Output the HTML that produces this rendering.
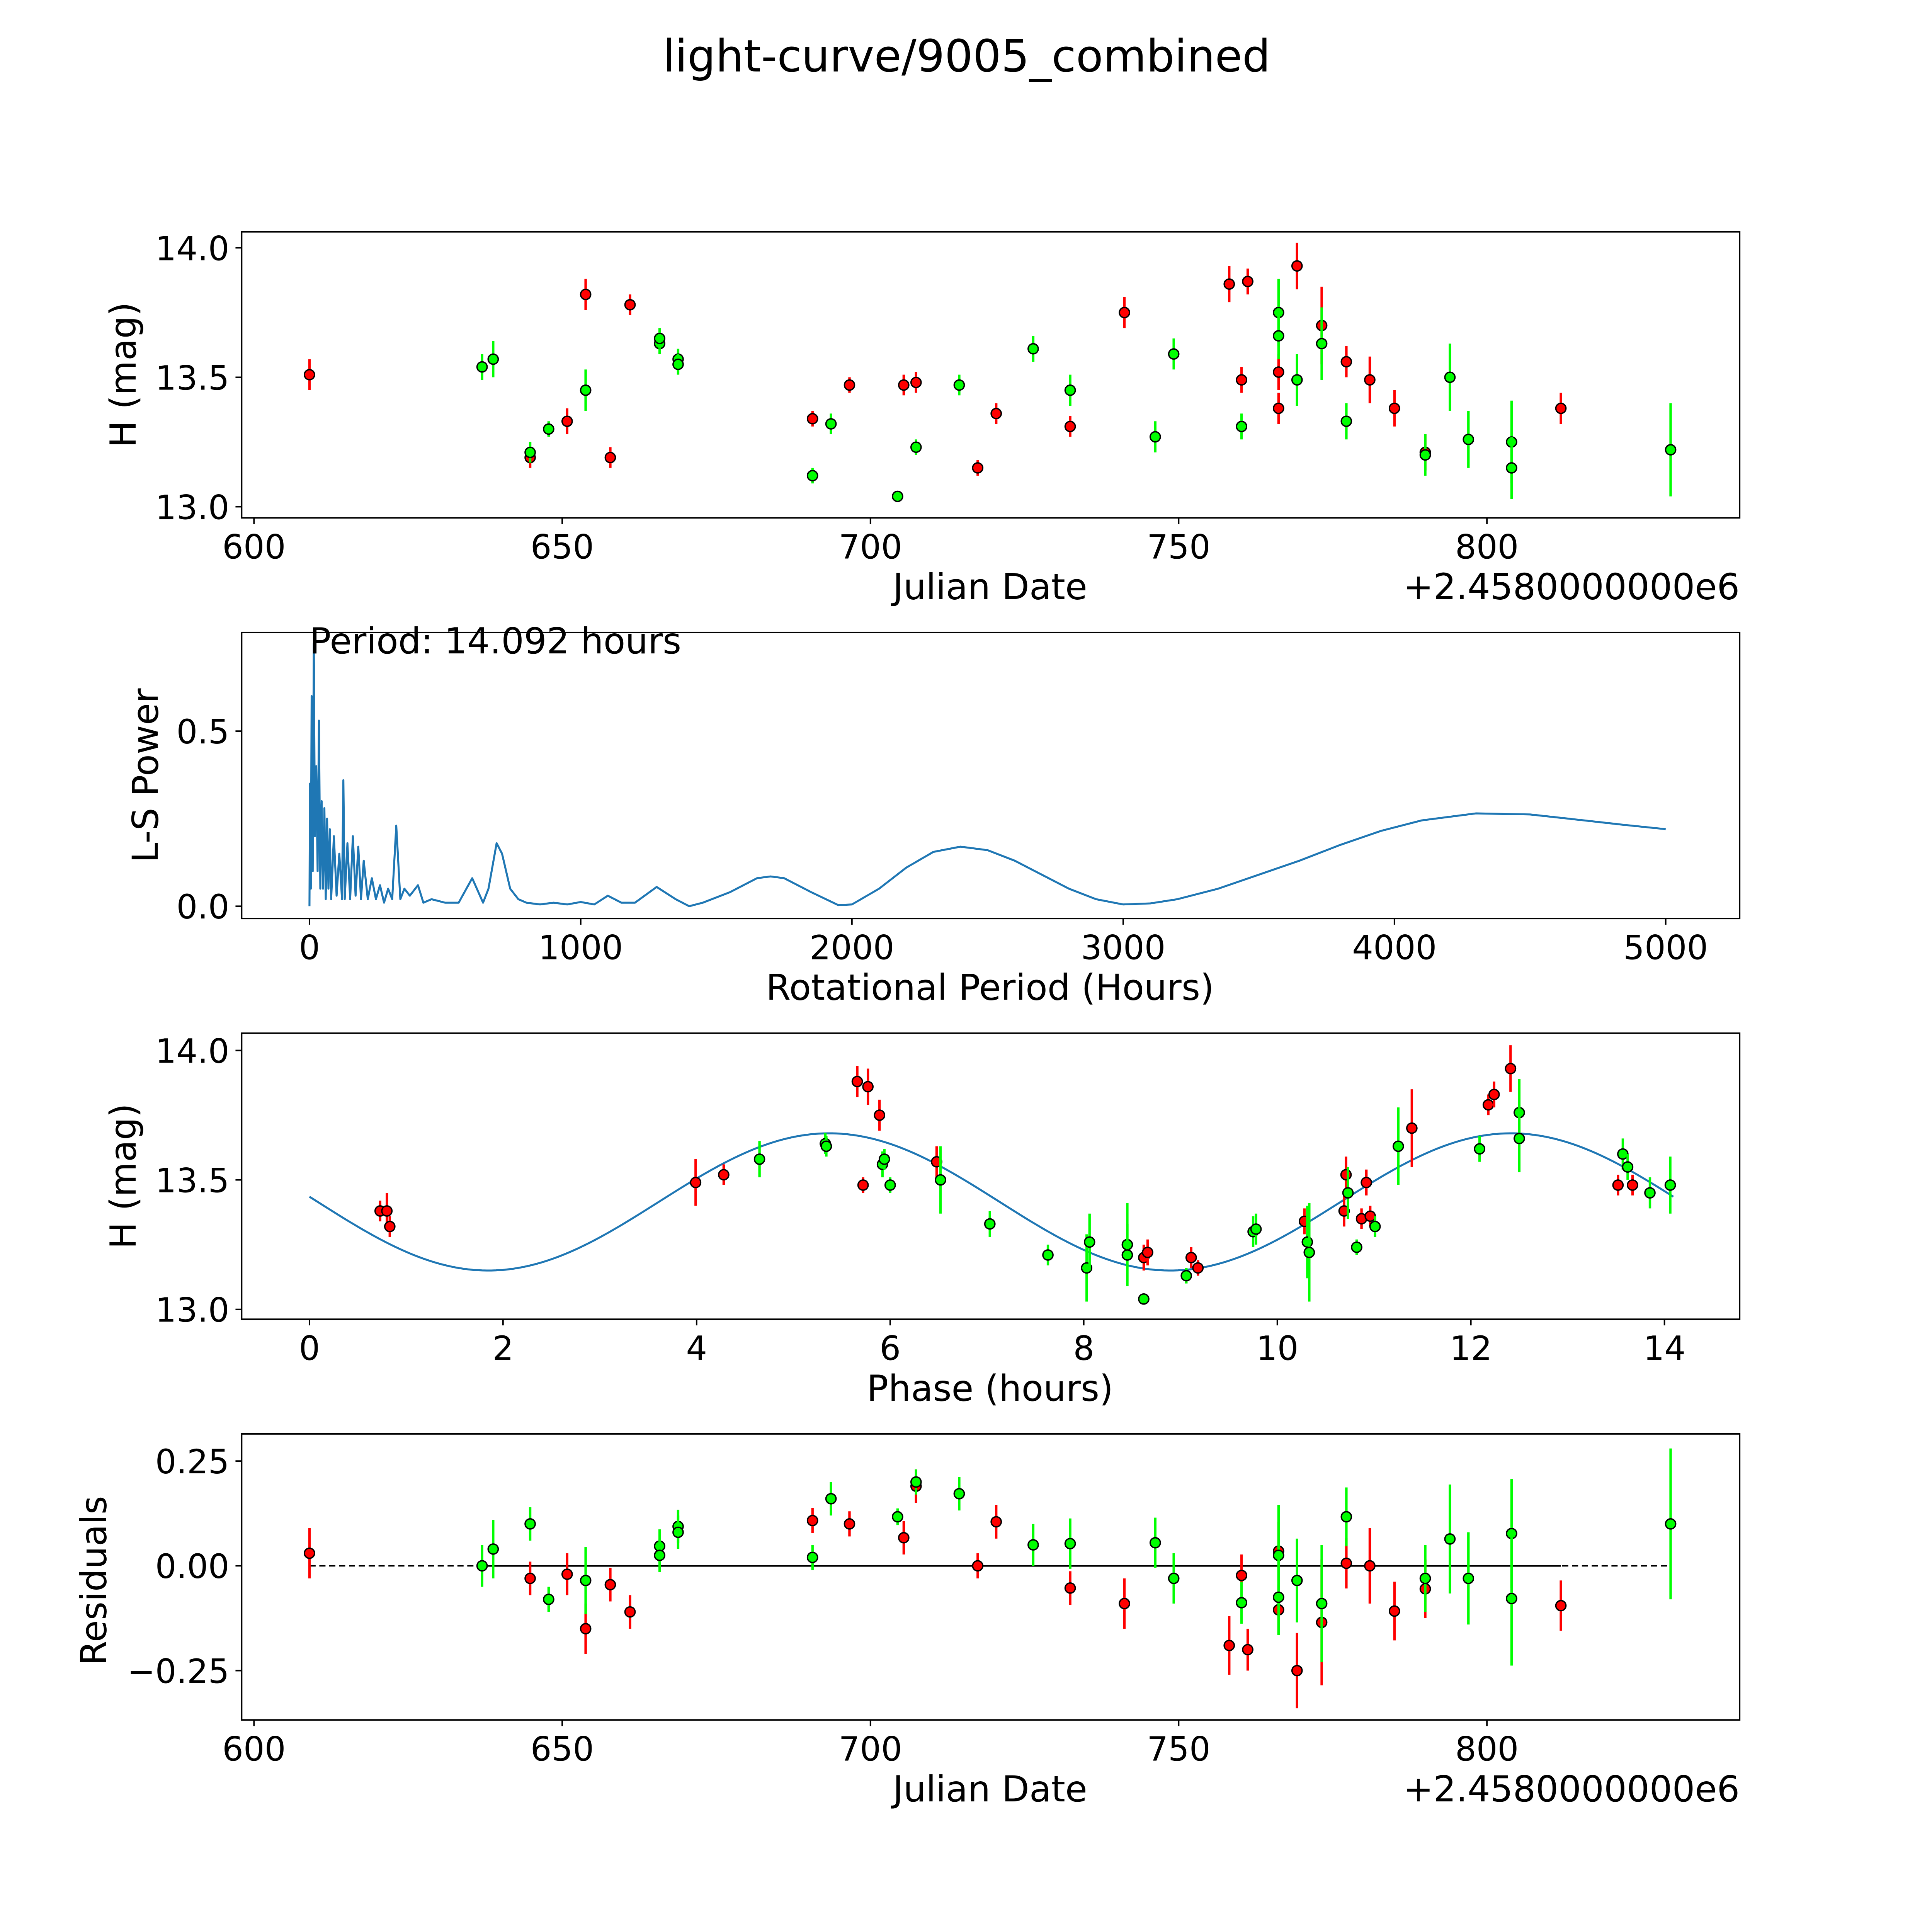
<!DOCTYPE html>
<html><head><meta charset="utf-8"><style>
html,body{margin:0;padding:0;background:#fff;overflow:hidden;width:100%;height:100%}
svg{display:block;position:fixed;left:0;top:0;width:100vw;height:100vh}
text{font-family:"DejaVu Sans","Liberation Sans",sans-serif;fill:#000}
</style></head><body>
<svg id="fig" viewBox="0 0 1567 1567" preserveAspectRatio="none" xmlns="http://www.w3.org/2000/svg">
<rect x="0" y="0" width="1567" height="1567" fill="#fff"/>
<text x="784" y="58" font-size="36" text-anchor="middle">light-curve/9005_combined</text>
</svg>
<script>
// ---------- data ----------
const lcDates=[609,637,638.8,644.8,644.8,647.8,650.8,653.8,653.8,657.8,661,665.8,665.8,668.8,668.8,690.6,690.6,693.6,696.6,704.4,705.4,707.4,707.4,714.4,717.4,720.4,726.4,732.4,732.4,741.2,746.2,749.2,758.2,760.2,760.2,761.2,766.2,766.2,766.2,766.2,769.2,769.2,773.2,773.2,777.2,777.2,781,785,790,790,794,797,804,804,812,829.8];
const lcMags=[13.51,13.54,13.57,13.19,13.21,13.30,13.33,13.82,13.45,13.19,13.78,13.63,13.65,13.57,13.55,13.34,13.12,13.32,13.47,13.04,13.47,13.48,13.23,13.47,13.15,13.36,13.61,13.31,13.45,13.75,13.27,13.59,13.86,13.49,13.31,13.87,13.52,13.38,13.75,13.66,13.93,13.49,13.70,13.63,13.56,13.33,13.49,13.38,13.21,13.20,13.50,13.26,13.25,13.15,13.38,13.22];
const lcErrs=[0.06,0.05,0.07,0.04,0.04,0.03,0.05,0.06,0.08,0.04,0.04,0.04,0.04,0.04,0.04,0.03,0.03,0.04,0.03,0.02,0.04,0.04,0.03,0.04,0.03,0.04,0.05,0.04,0.06,0.06,0.06,0.06,0.07,0.05,0.05,0.05,0.07,0.06,0.13,0.09,0.09,0.10,0.15,0.14,0.06,0.07,0.09,0.07,0.07,0.08,0.13,0.11,0.16,0.12,0.06,0.18];
const lcColors=["r","g","g","r","g","g","r","r","g","r","r","g","g","g","g","r","g","g","r","g","r","r","g","g","r","r","g","r","g","r","g","g","r","r","g","r","r","r","g","g","r","g","r","g","r","g","r","r","r","g","g","g","g","g","r","g"];
const resDates=[609,637,638.8,644.8,644.8,647.8,650.8,653.8,653.8,657.8,661,665.8,665.8,668.8,668.8,690.6,690.6,693.6,696.6,704.4,705.4,707.4,707.4,714.4,717.4,720.4,726.4,732.4,732.4,741.2,746.2,749.2,758.2,760.2,760.2,761.2,766.2,766.2,766.2,766.2,769.2,769.2,773.2,773.2,777.2,777.2,781,785,790,790,794,797,804,804,812,829.8];
const resValues=[0.03,0.00,0.04,-0.03,0.10,-0.08,-0.02,-0.15,-0.035,-0.045,-0.11,0.047,0.025,0.094,0.08,0.108,0.02,0.16,0.10,0.117,0.067,0.19,0.20,0.172,0.00,0.105,0.05,-0.053,0.053,-0.09,0.055,-0.03,-0.19,-0.023,-0.088,-0.20,0.035,-0.105,0.025,-0.075,-0.25,-0.035,-0.135,-0.09,0.006,0.117,0.00,-0.108,-0.055,-0.03,0.064,-0.03,0.077,-0.078,-0.095,0.10];
const resErrs=[0.06,0.05,0.07,0.04,0.04,0.03,0.05,0.06,0.08,0.04,0.04,0.04,0.04,0.04,0.04,0.03,0.03,0.04,0.03,0.02,0.04,0.04,0.03,0.04,0.03,0.04,0.05,0.04,0.06,0.06,0.06,0.06,0.07,0.05,0.05,0.05,0.07,0.06,0.12,0.09,0.09,0.10,0.15,0.14,0.06,0.07,0.09,0.07,0.07,0.08,0.13,0.11,0.13,0.16,0.06,0.18];
const resColors=["r","g","g","r","g","g","r","r","g","r","r","g","g","g","g","r","g","g","r","g","r","r","g","g","r","r","g","r","g","r","g","g","r","r","g","r","r","r","g","g","r","g","r","g","r","g","r","r","r","g","g","g","g","g","r","g"];
const phHours=[0.73,0.80,0.83,3.99,4.28,4.65,5.33,5.34,5.66,5.77,5.89,5.72,5.92,5.94,6.0,6.48,6.52,7.03,7.63,8.03,8.06,8.45,8.45,8.62,8.66,8.62,9.06,9.11,9.18,9.75,9.78,10.28,10.31,10.33,10.69,10.71,10.73,10.82,10.87,10.92,10.96,11.01,11.25,11.39,12.09,12.18,12.24,12.41,12.5,12.5,13.52,13.57,13.62,13.67,13.85,14.06];
const phMags=[13.38,13.38,13.32,13.49,13.52,13.58,13.64,13.63,13.88,13.86,13.75,13.48,13.56,13.58,13.48,13.57,13.50,13.33,13.21,13.16,13.26,13.25,13.21,13.20,13.22,13.04,13.13,13.20,13.16,13.30,13.31,13.34,13.26,13.22,13.38,13.52,13.45,13.24,13.35,13.49,13.36,13.32,13.63,13.70,13.62,13.79,13.83,13.93,13.76,13.66,13.48,13.60,13.55,13.48,13.45,13.48];
const phErrs=[0.04,0.07,0.04,0.09,0.04,0.07,0.04,0.04,0.06,0.07,0.06,0.03,0.05,0.04,0.03,0.06,0.13,0.05,0.04,0.13,0.11,0.16,0.12,0.05,0.05,0.02,0.03,0.04,0.03,0.06,0.06,0.05,0.14,0.19,0.06,0.07,0.10,0.03,0.04,0.05,0.04,0.04,0.15,0.15,0.05,0.04,0.05,0.09,0.13,0.13,0.04,0.06,0.05,0.04,0.06,0.11];
const phColors=["r","r","r","r","r","g","g","g","r","r","r","r","g","g","g","r","g","g","g","g","g","g","g","r","r","g","g","r","r","g","g","r","g","g","r","r","g","g","r","r","r","g","g","r","g","r","r","r","g","g","r","g","g","r","g","g"];
const psPeriods=[0,2,5,8,12,16,20,25,30,35,40,45,50,55,60,65,70,75,80,90,100,110,120,125,130,140,150,160,170,180,190,200,215,230,245,260,275,290,305,320,335,350,370,400,420,450,500,550,600,640,660,690,710,740,770,800,850,900,950,1000,1050,1100,1150,1200,1280,1350,1400,1450,1550,1650,1700,1750,1850,1950,2000,2100,2200,2300,2400,2500,2600,2700,2800,2900,3000,3100,3200,3350,3500,3650,3800,3950,4100,4300,4500,4700,4850,5000];
const psPower=[0,0.35,0.05,0.6,0.1,0.75,0.2,0.4,0.1,0.53,0.05,0.3,0.05,0.28,0.02,0.25,0.05,0.22,0.02,0.2,0.03,0.15,0.02,0.36,0.02,0.18,0.02,0.2,0.03,0.17,0.02,0.13,0.02,0.08,0.02,0.06,0.01,0.05,0.02,0.23,0.02,0.05,0.03,0.06,0.01,0.02,0.01,0.01,0.08,0.01,0.05,0.18,0.15,0.05,0.02,0.01,0.005,0.01,0.005,0.012,0.005,0.03,0.01,0.01,0.055,0.02,0.0,0.01,0.04,0.08,0.085,0.08,0.04,0.003,0.005,0.05,0.11,0.155,0.17,0.16,0.13,0.09,0.05,0.02,0.005,0.008,0.02,0.05,0.09,0.13,0.175,0.215,0.245,0.265,0.262,0.245,0.232,0.22];
const fitParams=[13.415,0.265,5.37,7.046,14.092]; // mean, amplitude, peak phase, harmonic period, max phase
const xTicksDate=[600,650,700,750,800];
const yTicksMag=["13.0","13.5","14.0"];
const xTicksPeriod=[0,1000,2000,3000,4000,5000];
const yTicksPower=["0.0","0.5"];
const xTicksPhase=[0,2,4,6,8,10,12,14];
const yTicksRes=["\u22120.25","0.00","0.25"];
const yTicksResVal=[-0.25,0,0.25];

// ---------- helpers ----------
const NS="http://www.w3.org/2000/svg";
const svg=document.getElementById('fig');
function mk(tag,attrs,parent){const e=document.createElementNS(NS,tag);for(const k in attrs)e.setAttribute(k,attrs[k]);(parent||svg).appendChild(e);return e;}
function lin(d0,d1,p0,p1){return v=>p0+(v-d0)*(p1-p0)/(d1-d0);}
const COL={r:"#ff0000",g:"#00ff00"};

function frame(x0,y0,x1,y1,name){
  const r=mk('rect',{x:x0,y:y0,width:x1-x0,height:y1-y0,fill:'none',stroke:'#000','stroke-width':1.2});
  
  
}
function xtick(x,yb,label,name){
  const l=mk('line',{x1:x,x2:x,y1:yb,y2:yb+5,stroke:'#000','stroke-width':1.2});
  
  
  const t=mk('text',{x:x,y:yb+33,'font-size':27,'text-anchor':'middle'});
  t.textContent=label;
  
  
}
function ytick(y,xl,label,name){
  const l=mk('line',{x1:xl-5,x2:xl,y1:y,y2:y,stroke:'#000','stroke-width':1.2});
  
  
  const t=mk('text',{x:xl-10,y:y+10,'font-size':27,'text-anchor':'end'});
  t.textContent=label;
  
  
}
function label(x,y,txt,rot,name,anchor){
  const t=mk('text',{x:x,y:y,'font-size':29,'text-anchor':anchor||'middle'});
  if(rot)t.setAttribute('transform','rotate(-90 '+x+' '+y+')');
  t.textContent=txt;
  
  
}
function point(x,y,ylo,yhi,c,name){
  const g=mk('g',{});
  
  
  mk('line',{x1:x,x2:x,y1:ylo,y2:yhi,stroke:COL[c],'stroke-width':2},g);
  mk('circle',{cx:x,cy:y,r:4.1,fill:COL[c],stroke:'#000','stroke-width':1.1},g);
}

// ---------- panel 1: light curve ----------
{
  const X=lin(600,800,206,1206), Y=lin(13,14,411,201);
  frame(196,188,1411,420,'light-curve-axes');
  xTicksDate.forEach(v=>xtick(X(v),420,String(v),'lc-x'));
  yTicksMag.forEach(v=>ytick(Y(parseFloat(v)),196,v,'lc-y'));
  label(803,486,'Julian Date',false,'lc-x-axis-title');
  label(1411,486,'+2.4580000000e6',false,'lc-x-offset','end');
  label(110,304,'H (mag)',true,'lc-y-axis-title');
  lcDates.forEach((d,i)=>point(X(d),Y(lcMags[i]),Y(lcMags[i]-lcErrs[i]),Y(lcMags[i]+lcErrs[i]),lcColors[i],'lc-point'));
}
// ---------- panel 2: periodogram ----------
{
  const X=lin(0,5000,251,1351), Y=lin(0,0.5,735,593);
  frame(196,513,1411,745,'periodogram-axes');
  xTicksPeriod.forEach(v=>xtick(X(v),745,String(v),'ps-x'));
  yTicksPower.forEach(v=>ytick(Y(parseFloat(v)),196,v,'ps-y'));
  label(803,811,'Rotational Period (Hours)',false,'ps-x-axis-title');
  label(128,629,'L-S Power',true,'ps-y-axis-title');
  const pts=psPeriods.map((p,i)=>X(p).toFixed(2)+','+Y(psPower[i]).toFixed(2)).join(' ');
  const pl=mk('polyline',{points:pts,fill:'none',stroke:'#1f77b4','stroke-width':1.6,'stroke-linejoin':'round'});
  
  
  const t=mk('text',{x:251,y:530,'font-size':29});
  t.textContent='Period: 14.092 hours';
  
  
}
// ---------- panel 3: phased ----------
{
  const X=lin(0,2,251,408), Y=lin(13,14,1062,852);
  frame(196,838,1411,1070,'phase-axes');
  xTicksPhase.forEach(v=>xtick(X(v),1070,String(v),'ph-x'));
  yTicksMag.forEach(v=>ytick(Y(parseFloat(v)),196,v,'ph-y'));
  label(803,1136,'Phase (hours)',false,'ph-x-axis-title');
  label(110,954,'H (mag)',true,'ph-y-axis-title');
  const [m,a,p0,P,tmax]=fitParams;
  const pts=[];
  for(let i=0;i<=300;i++){const t=tmax*i/300;const v=m+a*Math.cos(2*Math.PI*(t-p0)/P);pts.push(X(t).toFixed(2)+','+Y(v).toFixed(2));}
  const pl=mk('polyline',{points:pts.join(' '),fill:'none',stroke:'#1f77b4','stroke-width':1.6});
  
  
  phHours.forEach((h,i)=>point(X(h),Y(phMags[i]),Y(phMags[i]-phErrs[i]),Y(phMags[i]+phErrs[i]),phColors[i],'phase-point'));
}
// ---------- panel 4: residuals ----------
{
  const X=lin(600,800,206,1206), Y=lin(0,0.25,1270,1185);
  frame(196,1163,1411,1395,'residual-axes');
  xTicksDate.forEach(v=>xtick(X(v),1395,String(v),'res-x'));
  yTicksResVal.forEach((v,i)=>ytick(Y(v),196,yTicksRes[i],'res-y'));
  label(803,1461,'Julian Date',false,'res-x-axis-title');
  label(1411,1461,'+2.4580000000e6',false,'res-x-offset','end');
  label(86,1282,'Residuals',true,'res-y-axis-title');
  const d=mk('line',{x1:X(609),x2:X(829.8),y1:Y(0),y2:Y(0),stroke:'#000','stroke-width':1.2,'stroke-dasharray':'5,3'});
  
  
  const s=mk('line',{x1:X(637),x2:X(812),y1:Y(0),y2:Y(0),stroke:'#000','stroke-width':1.4});
  
  
  resDates.forEach((dd,i)=>point(X(dd),Y(resValues[i]),Y(resValues[i]-resErrs[i]),Y(resValues[i]+resErrs[i]),resColors[i],'residual-point'));
}
</script>
</body></html>
